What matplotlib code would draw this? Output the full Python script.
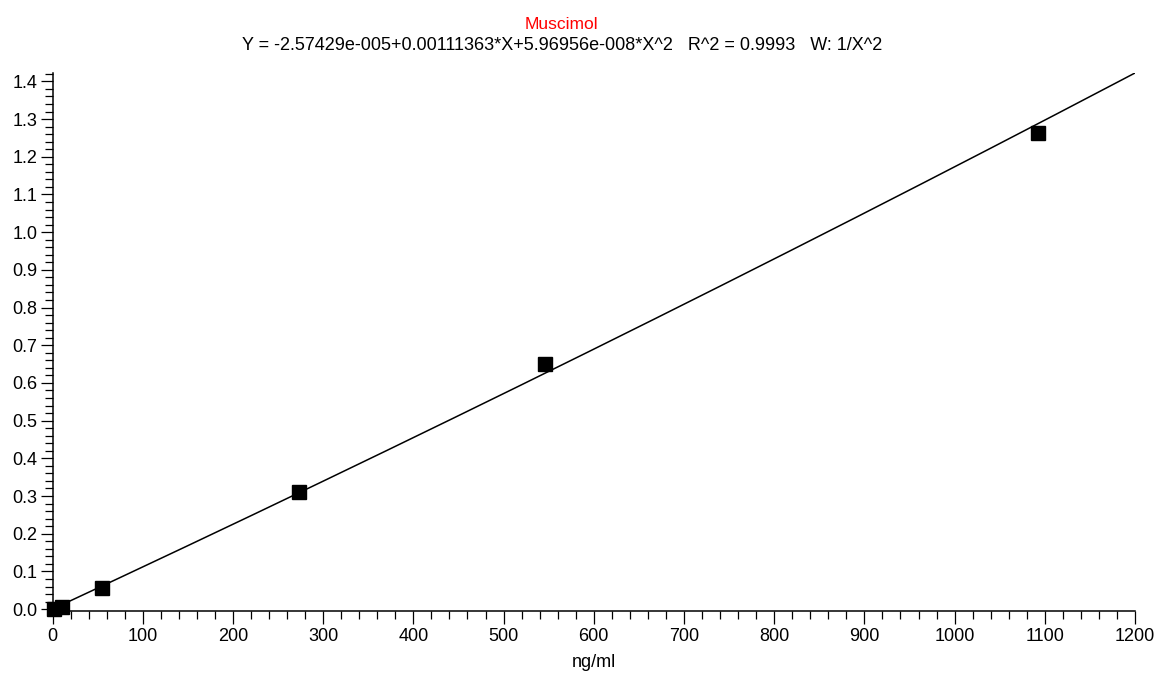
import numpy as np
import matplotlib
matplotlib.use("Agg")
from matplotlib import pyplot as plt
from matplotlib.ticker import MultipleLocator, FormatStrFormatter

# Calibration standards (ng/ml) and measured response ratio
conc = [1.09, 10.9, 54.6, 273, 546, 1092]
response = [0.001, 0.006, 0.057, 0.311, 0.651, 1.263]

# Quadratic fit coefficients printed in the header
coef_a = -2.57429e-005
coef_b = 0.00111363
coef_c = 5.96956e-008

compound = "Muscimol"
fit_label = "Y = -2.57429e-005+0.00111363*X+5.96956e-008*X^2   R^2 = 0.9993   W: 1/X^2"

plt.rcParams["font.family"] = ["Liberation Sans", "DejaVu Sans"]

fig = plt.figure(figsize=(11.57, 6.75), dpi=100)
ax = fig.add_axes([0.0454, 0.0948, 0.9356, 0.7971])

# Fitted curve across the full x range
xs = np.linspace(0, 1200, 600)
ax.plot(xs, coef_a + coef_b * xs + coef_c * xs ** 2, color="black", lw=1.1)

# Standards
ax.plot(conc, response, ls="", marker="s", markersize=10.5, color="black",
        clip_on=False, zorder=3)

ax.set_xlim(0, 1200)
ax.set_ylim(-0.005, coef_a + coef_b * 1200 + coef_c * 1200 ** 2)

ax.xaxis.set_major_locator(MultipleLocator(100))
ax.xaxis.set_minor_locator(MultipleLocator(20))
ax.yaxis.set_major_locator(MultipleLocator(0.1))
ax.yaxis.set_minor_locator(MultipleLocator(0.02))
ax.yaxis.set_major_formatter(FormatStrFormatter("%.1f"))

ax.tick_params(axis="both", which="major", length=9, width=0.9, labelsize=13)
ax.tick_params(axis="both", which="minor", length=6, width=0.9)
ax.tick_params(axis="x", which="major", pad=3)
ax.tick_params(axis="y", which="major", pad=2)

for side in ["top", "right"]:
    ax.spines[side].set_visible(False)
for side in ["left", "bottom"]:
    ax.spines[side].set_linewidth(1.1)

ax.set_xlabel("ng/ml", fontsize=13, labelpad=7)

# Header
fig.text(0.4855, 0.964, compound, color="red", fontsize=12.5, ha="center", va="center")
fig.text(0.4855, 0.933, fit_label, color="black", fontsize=13, ha="center", va="center")

plt.savefig("out.png", dpi=100)
